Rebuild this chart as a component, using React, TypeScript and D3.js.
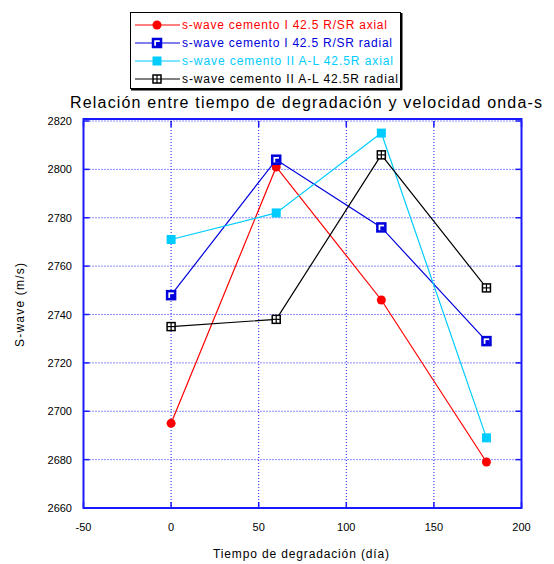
import React from "react";
import * as d3 from "d3";

const days = [0, 60, 120, 180];
const redAxialI = [2695, 2801, 2746, 2679];
const blueRadialI = [2748, 2804, 2776, 2729];
const cyanAxialII = [2771, 2782, 2815, 2689];
const blackRadialII = [2735, 2738, 2806, 2751];
const xTicks = [-50, 0, 50, 100, 150, 200];
const yTicks = [2660, 2680, 2700, 2720, 2740, 2760, 2780, 2800, 2820];
const legendLabels = [
  "s-wave cemento I 42.5 R/SR axial",
  "s-wave cemento I 42.5 R/SR radial",
  "s-wave cemento II A-L 42.5R axial",
  "s-wave cemento II A-L 42.5R radial",
];

const series = [
  { values: redAxialI, color: "#ff0000", marker: "circle" },
  { values: blueRadialI, color: "#0000dd", marker: "squareOpen" },
  { values: cyanAxialII, color: "#00ccff", marker: "square" },
  { values: blackRadialII, color: "#000000", marker: "squareCross" },
];
const legendWidths = [205, 210, 211, 216];

const FONT = "Arial, 'Liberation Sans', sans-serif";

function Marker({ type, x, y, color }: { type: string; x: number; y: number; color: string }) {
  if (type === "circle") return <circle cx={x} cy={y} r={4.5} fill={color} />;
  if (type === "square") return <rect x={x - 4.5} y={y - 4.5} width={9} height={9} fill={color} />;
  if (type === "squareOpen")
    return (
      <g>
        <rect x={x - 4} y={y - 4} width={8} height={8} fill="#ffffff" stroke={color} strokeWidth={2.5} />
        <rect x={x - 1} y={y - 1} width={4} height={4} fill={color} />
      </g>
    );
  return (
    <g>
      <rect x={x - 4} y={y - 4} width={8} height={8} fill="#ffffff" stroke={color} strokeWidth={1.5} />
      <line x1={x} x2={x} y1={y - 4} y2={y + 4} stroke={color} strokeWidth={1.2} />
      <line x1={x - 4} x2={x + 4} y1={y} y2={y} stroke={color} strokeWidth={1.2} />
    </g>
  );
}

export default function App() {
  const W = 554, H = 564;
  const left = 83.5, right = 521.5, top = 121, bottom = 508;
  const x = d3.scaleLinear().domain([-50, 200]).range([left, right]);
  const y = d3.scaleLinear().domain([2660, 2820]).range([bottom, top]);
  const line = d3.line<number>().x((_, i) => x(days[i])).y((v) => y(v));
  const axisColor = "#1a1aff";

  return (
    <svg width={W} height={H} style={{ position: "absolute", left: 0, top: 0 }}>
      <rect width={W} height={H} fill="#ffffff" />
      {xTicks.slice(1, -1).map((t) => (
        <line key={"gx" + t} x1={x(t)} x2={x(t)} y1={top} y2={bottom} stroke={axisColor} strokeWidth={1} strokeDasharray="1,2" />
      ))}
      {yTicks.slice(1).map((t) => (
        <line key={"gy" + t} x1={left} x2={right} y1={y(t)} y2={y(t)} stroke={axisColor} strokeWidth={1} strokeDasharray="1,2" />
      ))}
      {xTicks.map((t) => (
        <g key={"tx" + t}>
          <line x1={x(t)} x2={x(t)} y1={bottom} y2={bottom - 6} stroke={axisColor} strokeWidth={1.5} />
          <line x1={x(t)} x2={x(t)} y1={top} y2={top + 6} stroke={axisColor} strokeWidth={1.5} />
          <text x={x(t)} y={531} textAnchor="middle" fontFamily={FONT} fontSize={11} fill="#000">{t}</text>
        </g>
      ))}
      {yTicks.map((t) => (
        <g key={"ty" + t}>
          <line x1={left} x2={left + 6} y1={y(t)} y2={y(t)} stroke={axisColor} strokeWidth={1.5} />
          <line x1={right} x2={right - 6} y1={y(t)} y2={y(t)} stroke={axisColor} strokeWidth={1.5} />
          <text x={72} y={y(t) + 4} textAnchor="end" fontFamily={FONT} fontSize={11} fill="#000">{t}</text>
        </g>
      ))}
      {series.map((s, i) => (
        <g key={"s" + i}>
          <path d={line(s.values) || ""} fill="none" stroke={s.color} strokeWidth={1.2} />
          {s.values.map((v, j) => (
            <Marker key={j} type={s.marker} x={x(days[j])} y={y(v)} color={s.color} />
          ))}
        </g>
      ))}
      <rect x={left} y={top - 2} width={right - left} height={bottom - top + 2} fill="none" stroke={axisColor} strokeWidth={2} />
      <text x={306} y={108} textAnchor="middle" fontFamily={FONT} fontSize={16} fill="#000" textLength={472} lengthAdjust="spacing">
        Relación entre tiempo de degradación y velocidad onda-s
      </text>
      <text x={301} y={558} textAnchor="middle" fontFamily={FONT} fontSize={12} fill="#000" textLength={176} lengthAdjust="spacing">
        Tiempo de degradación (día)
      </text>
      <text transform="translate(24,305) rotate(-90)" textAnchor="middle" fontFamily={FONT} fontSize={12} fill="#000" textLength={84} lengthAdjust="spacing">
        S-wave (m/s)
      </text>
      <rect x={130.5} y={12.5} width={270} height={76} fill="#ffffff" stroke="#000" strokeWidth={1} />
      <line x1={401.5} x2={401.5} y1={13} y2={90} stroke="#000" strokeWidth={2} />
      <line x1={131} x2={402} y1={89.5} y2={89.5} stroke="#000" strokeWidth={2} />
      {series.map((s, i) => {
        const ly = 25 + i * 18;
        return (
          <g key={"l" + i}>
            <line x1={135} x2={180} y1={ly} y2={ly} stroke={s.color} strokeWidth={1.2} />
            <Marker type={s.marker} x={157} y={ly} color={s.color} />
            <text x={182} y={ly + 4} fontFamily={FONT} fontSize={12} fill={s.color} textLength={legendWidths[i]} lengthAdjust="spacing">
              {legendLabels[i]}
            </text>
          </g>
        );
      })}
    </svg>
  );
}
